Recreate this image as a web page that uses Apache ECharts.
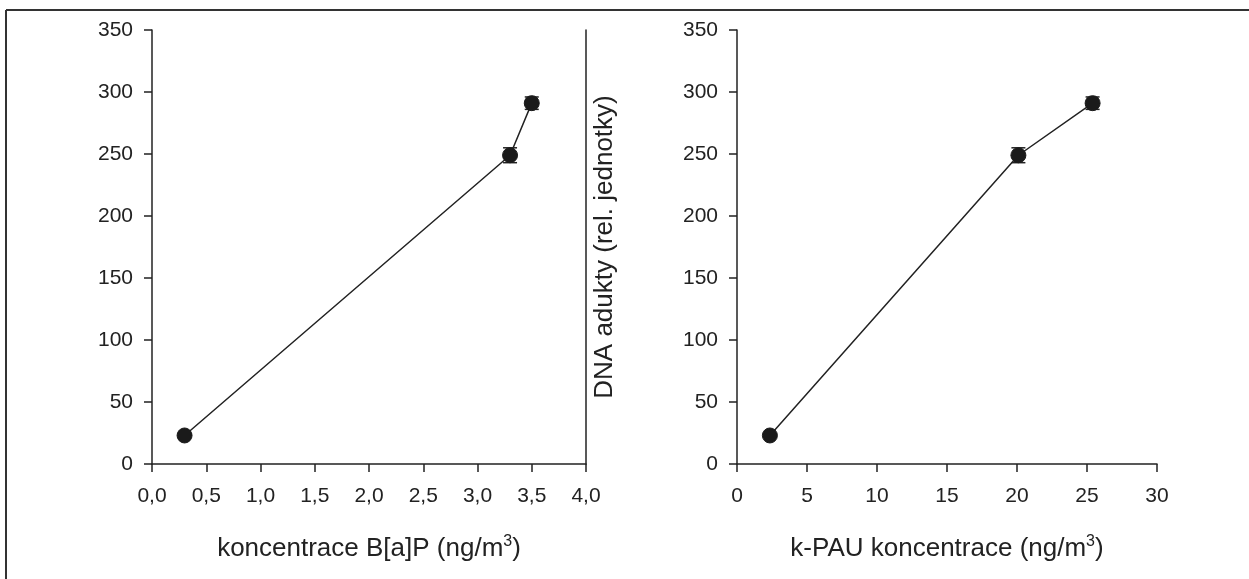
<!DOCTYPE html>
<html><head><meta charset="utf-8">
<script src="https://cdn.jsdelivr.net/npm/echarts@6/dist/echarts.min.js"></script>
<style>html,body{margin:0;padding:0;background:#fff}#c{width:1249px;height:579px}</style>
</head><body><div id="c"></div>
<script>
const bapX = [0.3, 3.3, 3.5];
const kpauX = [2.35, 20.1, 25.4];
const adducts = [23, 249, 291];
const adductErr = [0, 6, 5];
const leftXTicks = {min: 0, max: 4, interval: 0.5};
const rightXTicks = {min: 0, max: 30, interval: 5};
const yTicks = {min: 0, max: 350, interval: 50};
const yTitle = 'DNA adukty (rel. jednotky)';
const leftXTitle = 'koncentrace B[a]P (ng/m{sup|3})';
const rightXTitle = 'k-PAU koncentrace (ng/m{sup|3})';

const FONT = '"Liberation Sans", Arial, sans-serif';
const INK = '#222';

function pts(xs){ return xs.map((x,i)=>[x, adducts[i]]); }
function errData(xs){ return xs.map((x,i)=>[x, adducts[i], adductErr[i]]); }

function xAxis(idx, t, title){
  return {
    type:'value', gridIndex: idx, min:t.min, max:t.max, interval:t.interval,
    name: title, nameLocation:'middle', nameGap: 70,
    nameTextStyle:{fontFamily:FONT, fontSize:26, color:INK, rich:{sup:{fontSize:16, verticalAlign:'top', padding:[0,0,14,0], fontFamily:FONT, color:INK}}},
    axisLine:{show:true, lineStyle:{color:INK, width:1.5}},
    axisTick:{show:true, inside:false, length:8, lineStyle:{color:INK, width:1.5}},
    splitLine:{show:false},
    axisLabel:{fontFamily:FONT, fontSize:21, color:INK, margin:22,
      formatter: v => idx===0 ? v.toFixed(1).replace('.', ',') : String(v)}
  };
}
function yAxis(idx, withTitle){
  return {
    type:'value', gridIndex: idx, min:yTicks.min, max:yTicks.max, interval:yTicks.interval,
    name: withTitle ? yTitle : '', nameLocation:'middle', nameGap: 119,
    nameTextStyle:{fontFamily:FONT, fontSize:26, color:INK},
    axisLine:{show:true, lineStyle:{color:INK, width:1.5}},
    axisTick:{show:true, inside:false, length:8, lineStyle:{color:INK, width:1.5}},
    splitLine:{show:false},
    axisLabel:{fontFamily:FONT, fontSize:21, color:INK, margin:19}
  };
}

function errSeries(idx, xs){
  return {
    type:'custom', xAxisIndex: idx, yAxisIndex: idx===0?0:2, data: errData(xs), z:3,
    renderItem: function(params, api){
      const x = api.value(0), y = api.value(1), e = api.value(2);
      if (!e) return null;
      const top = api.coord([x, y+e]), bot = api.coord([x, y-e]);
      const hw = 7;
      const st = {stroke: INK, lineWidth: 1.5};
      return {type:'group', children:[
        {type:'line', shape:{x1:top[0], y1:top[1], x2:bot[0], y2:bot[1]}, style:st},
        {type:'line', shape:{x1:top[0]-hw, y1:top[1], x2:top[0]+hw, y2:top[1]}, style:st},
        {type:'line', shape:{x1:bot[0]-hw, y1:bot[1], x2:bot[0]+hw, y2:bot[1]}, style:st}
      ]};
    }
  };
}
function lineSeries(idx, xs){
  return {
    type:'line', xAxisIndex: idx, yAxisIndex: idx===0?0:2, data: pts(xs), z:4,
    symbol:'circle', symbolSize:15, showSymbol:true,
    itemStyle:{color:'#1a1a1a', borderColor:'#1a1a1a'},
    lineStyle:{color:INK, width:1.5}, animation:false
  };
}

const chart = echarts.init(document.getElementById('c'), null, {renderer:'canvas'});
chart.setOption({
  backgroundColor:'#fff',
  animation:false,
  grid:[
    {left:152, right:663, top:30, bottom:115},
    {left:737, right:92, top:30, bottom:115}
  ],
  xAxis:[ xAxis(0, leftXTicks, leftXTitle), xAxis(1, rightXTicks, rightXTitle) ],
  yAxis:[
    yAxis(0, false),
    {type:'value', gridIndex:0, position:'right', min:yTicks.min, max:yTicks.max, interval:yTicks.interval,
     axisLine:{show:true, lineStyle:{color:INK, width:1.5}}, axisTick:{show:false}, axisLabel:{show:false}, splitLine:{show:false}},
    yAxis(1, true)
  ],
  graphic:[
    {type:'line', shape:{x1:6, y1:10, x2:1249, y2:10}, style:{stroke:'#333', lineWidth:2}},
    {type:'line', shape:{x1:6, y1:10, x2:6, y2:579}, style:{stroke:'#333', lineWidth:2}}
  ],
  series:[
    errSeries(0, bapX), lineSeries(0, bapX),
    errSeries(1, kpauX), lineSeries(1, kpauX)
  ]
});
</script></body></html>
